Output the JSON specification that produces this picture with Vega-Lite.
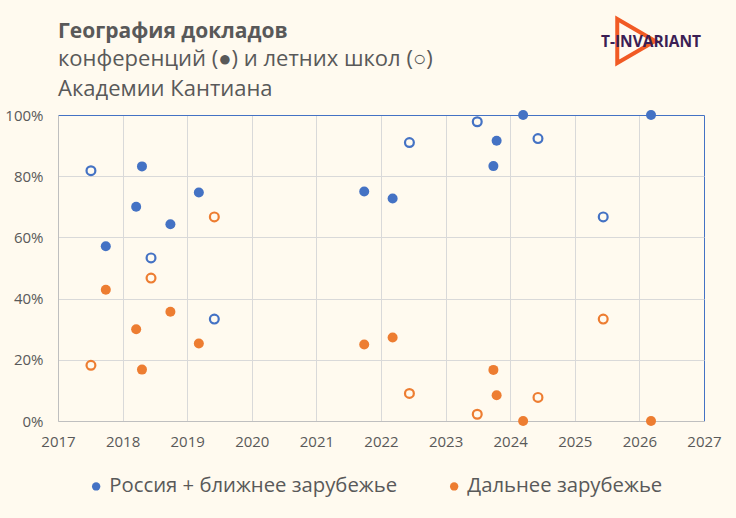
{
  "$schema": "https://vega.github.io/schema/vega-lite/v6.json",
  "width": 646,
  "height": 306,
  "autosize": {"type": "none"},
  "padding": {"left": 58, "top": 115, "right": 32, "bottom": 97},
  "background": "#FFFAEF",
  "title": {
    "text": "География докладов",
    "subtitle": ["конференций (●) и летних школ (○)", "Академии Кантиана"],
    "anchor": "start",
    "frame": "group",
    "font": "Open Sans",
    "fontSize": 21,
    "fontWeight": "bold",
    "color": "#595959",
    "subtitleFont": "Open Sans",
    "subtitleFontSize": 22,
    "subtitleColor": "#595959",
    "subtitleLineHeight": 30,
    "subtitlePadding": 7,
    "offset": 3,
    "dy": 92
  },
  "config": {
    "view": {"stroke": null},
    "font": "Open Sans",
    "axis": {
      "labelFont": "Open Sans",
      "labelFontSize": 15,
      "labelColor": "#595959",
      "domainColor": "#BFBFBF",
      "ticks": false,
      "title": null,
      "labelFlush": false,
      "labelOverlap": false
    },
    "legend": {
      "orient": "none",
      "legendX": 28,
      "legendY": 361,
      "direction": "horizontal",
      "labelFont": "Open Sans",
      "labelFontSize": 20.3,
      "labelColor": "#595959",
      "labelLimit": 0,
      "symbolType": "circle",
      "symbolSize": 70,
      "symbolStrokeWidth": 0,
      "labelOffset": 3,
      "columnPadding": 46,
      "padding": 0
    }
  },
  "data": {
    "values": [
      {"year": 2017.74, "share": 0.571, "region": "Россия + ближнее зарубежье", "type": "conf"},
      {"year": 2017.74, "share": 0.429, "region": "Дальнее зарубежье", "type": "conf"},
      {"year": 2018.21, "share": 0.700, "region": "Россия + ближнее зарубежье", "type": "conf"},
      {"year": 2018.21, "share": 0.300, "region": "Дальнее зарубежье", "type": "conf"},
      {"year": 2018.30, "share": 0.832, "region": "Россия + ближнее зарубежье", "type": "conf"},
      {"year": 2018.30, "share": 0.168, "region": "Дальнее зарубежье", "type": "conf"},
      {"year": 2018.74, "share": 0.643, "region": "Россия + ближнее зарубежье", "type": "conf"},
      {"year": 2018.74, "share": 0.357, "region": "Дальнее зарубежье", "type": "conf"},
      {"year": 2019.18, "share": 0.747, "region": "Россия + ближнее зарубежье", "type": "conf"},
      {"year": 2019.18, "share": 0.253, "region": "Дальнее зарубежье", "type": "conf"},
      {"year": 2021.74, "share": 0.750, "region": "Россия + ближнее зарубежье", "type": "conf"},
      {"year": 2021.74, "share": 0.250, "region": "Дальнее зарубежье", "type": "conf"},
      {"year": 2022.18, "share": 0.727, "region": "Россия + ближнее зарубежье", "type": "conf"},
      {"year": 2022.18, "share": 0.273, "region": "Дальнее зарубежье", "type": "conf"},
      {"year": 2023.74, "share": 0.833, "region": "Россия + ближнее зарубежье", "type": "conf"},
      {"year": 2023.74, "share": 0.167, "region": "Дальнее зарубежье", "type": "conf"},
      {"year": 2023.79, "share": 0.916, "region": "Россия + ближнее зарубежье", "type": "conf"},
      {"year": 2023.79, "share": 0.084, "region": "Дальнее зарубежье", "type": "conf"},
      {"year": 2024.20, "share": 1.0, "region": "Россия + ближнее зарубежье", "type": "conf"},
      {"year": 2024.20, "share": 0.0, "region": "Дальнее зарубежье", "type": "conf"},
      {"year": 2026.18, "share": 1.0, "region": "Россия + ближнее зарубежье", "type": "conf"},
      {"year": 2026.18, "share": 0.0, "region": "Дальнее зарубежье", "type": "conf"},
      {"year": 2017.51, "share": 0.818, "region": "Россия + ближнее зарубежье", "type": "school"},
      {"year": 2017.51, "share": 0.182, "region": "Дальнее зарубежье", "type": "school"},
      {"year": 2018.44, "share": 0.533, "region": "Россия + ближнее зарубежье", "type": "school"},
      {"year": 2018.44, "share": 0.467, "region": "Дальнее зарубежье", "type": "school"},
      {"year": 2019.42, "share": 0.333, "region": "Россия + ближнее зарубежье", "type": "school"},
      {"year": 2019.42, "share": 0.667, "region": "Дальнее зарубежье", "type": "school"},
      {"year": 2022.44, "share": 0.910, "region": "Россия + ближнее зарубежье", "type": "school"},
      {"year": 2022.44, "share": 0.090, "region": "Дальнее зарубежье", "type": "school"},
      {"year": 2023.49, "share": 0.978, "region": "Россия + ближнее зарубежье", "type": "school"},
      {"year": 2023.49, "share": 0.022, "region": "Дальнее зарубежье", "type": "school"},
      {"year": 2024.43, "share": 0.923, "region": "Россия + ближнее зарубежье", "type": "school"},
      {"year": 2024.43, "share": 0.077, "region": "Дальнее зарубежье", "type": "school"},
      {"year": 2025.44, "share": 0.667, "region": "Россия + ближнее зарубежье", "type": "school"},
      {"year": 2025.44, "share": 0.333, "region": "Дальнее зарубежье", "type": "school"}
    ]
  },
  "layer": [
    {
      "transform": [{"filter": "datum.type === 'conf'"}],
      "mark": {"type": "circle", "size": 100, "opacity": 1},
      "encoding": {
        "x": {
          "field": "year",
          "type": "quantitative",
          "scale": {"domain": [2017, 2027], "nice": false, "zero": false},
          "axis": {
            "values": [2017, 2018, 2019, 2020, 2021, 2022, 2023, 2024, 2025, 2026, 2027],
            "format": "d",
            "labelPadding": 13,
            "gridColor": {"condition": {"test": "datum.value >= 2027", "value": "#4472C4"}, "value": "#D9D9D9"}
          }
        },
        "y": {
          "field": "share",
          "type": "quantitative",
          "scale": {"domain": [0, 1], "nice": false},
          "axis": {
            "values": [0, 0.2, 0.4, 0.6, 0.8, 1],
            "format": ".0%",
            "labelPadding": 15,
            "gridColor": {"condition": {"test": "datum.value >= 1", "value": "#4472C4"}, "value": "#D9D9D9"}
          }
        },
        "color": {
          "field": "region",
          "type": "nominal",
          "scale": {"domain": ["Россия + ближнее зарубежье", "Дальнее зарубежье"], "range": ["#4472C4", "#ED7D31"]},
          "legend": {"title": null}
        }
      }
    },
    {
      "transform": [{"filter": "datum.type === 'school'"}],
      "mark": {"type": "point", "shape": "circle", "size": 78, "filled": true, "fill": "#FFFAEF", "strokeWidth": 2.2, "opacity": 1},
      "encoding": {
        "x": {"field": "year", "type": "quantitative"},
        "y": {"field": "share", "type": "quantitative"},
        "stroke": {
          "field": "region",
          "type": "nominal",
          "scale": {"domain": ["Россия + ближнее зарубежье", "Дальнее зарубежье"], "range": ["#4472C4", "#ED7D31"]},
          "legend": null
        }
      }
    },
    {
      "transform": [{"filter": "datum.type === 'conf' && datum.year > 2026"}, {"filter": "datum.share === 1"}],
      "mark": {"type": "point", "shape": "M-0.86,-1L0.86,0L-0.86,1Z", "size": 1936, "filled": false, "stroke": "#F15A24", "strokeWidth": 4, "opacity": 1, "clip": false},
      "encoding": {
        "x": {"datum": 2025.95, "type": "quantitative"},
        "y": {"datum": 1.242, "type": "quantitative"}
      }
    },
    {
      "transform": [{"filter": "datum.type === 'conf' && datum.year > 2026"}, {"filter": "datum.share === 1"}],
      "mark": {"type": "text", "text": "T-INVARIANT", "font": "Open Sans", "fontWeight": "bold", "fontSize": 15.5, "fill": "#3B1E54", "align": "center", "baseline": "middle", "clip": false},
      "encoding": {
        "x": {"datum": 2026.18, "type": "quantitative"},
        "y": {"datum": 1.238, "type": "quantitative"}
      }
    }
  ]
}
